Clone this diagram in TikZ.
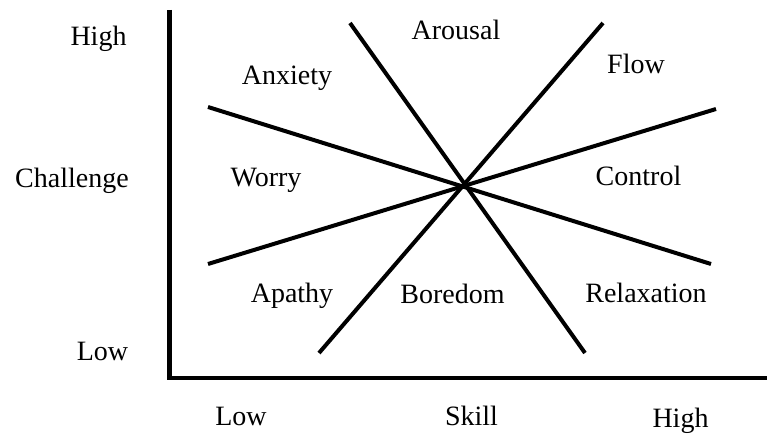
\documentclass[tikz,border=0pt]{standalone}
\usepackage{fontspec}
\setmainfont{Liberation Serif}
\begin{document}
\begin{tikzpicture}[x=1pt,y=-1pt,
  lbl/.style={anchor=base,inner sep=0pt,font=\fontsize{28}{30}\selectfont},
  zone/.style={line width=4pt},
  axis/.style={line width=4.5pt,line join=miter}]
\useasboundingbox (0,0) rectangle (767,435);
% axes
\coordinate (ytop) at (169.5,10);
\coordinate (origin) at (169.5,378);
\coordinate (xend) at (767,378);
\draw[axis] (ytop) -- (origin) -- (xend);
% zone lines
\coordinate (a1) at (208,107);
\coordinate (a2) at (711,264);
\coordinate (b1) at (208,264);
\coordinate (b2) at (716,109);
\coordinate (c1) at (350,23);
\coordinate (c2) at (585,353);
\coordinate (d1) at (319,353);
\coordinate (d2) at (603,23);
\draw[zone] (a1) -- (a2);
\draw[zone] (b1) -- (b2);
\draw[zone] (c1) -- (c2);
\draw[zone] (d1) -- (d2);
% axis labels
\node[lbl] (hi) at (98.5,46) {High};
\node[lbl] (chal) at (72,188) {Challenge};
\node[lbl] (lo) at (102.5,360) {Low};
\node[lbl] (xlo) at (241,425) {Low};
\node[lbl] (skill) at (471.5,425) {Skill};
\node[lbl] (xhi) at (680.5,427) {High};
% zone labels
\node[lbl] (anx) at (287,85) {Anxiety};
\node[lbl] (aro) at (456,40) {Arousal};
\node[lbl] (flow) at (636,74) {Flow};
\node[lbl] (wor) at (266,187) {Worry};
\node[lbl] (con) at (638.5,186) {Control};
\node[lbl] (apa) at (292,302) {Apathy};
\node[lbl] (bor) at (452.5,303) {Boredom};
\node[lbl] (rel) at (646,302) {Relaxation};
\end{tikzpicture}
\end{document}
